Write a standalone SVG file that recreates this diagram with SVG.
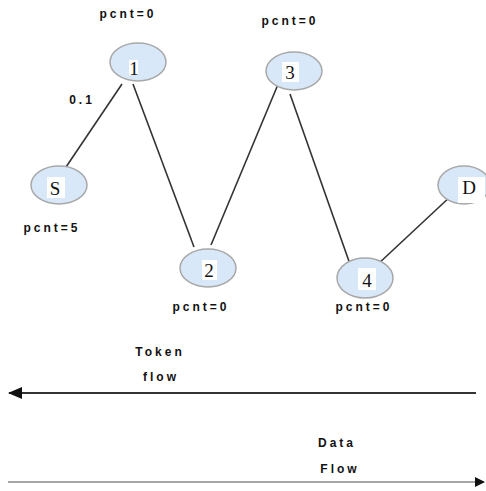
<svg xmlns="http://www.w3.org/2000/svg" width="486" height="491" viewBox="0 0 486 491">
<style>
.n ellipse{fill:#d8e8f8;stroke:#a8a8a8;stroke-width:1.5}
.n rect{fill:#ffffff}
.nl{font-family:"Liberation Serif",serif;font-size:19px;fill:#111;text-anchor:middle}
.t{font-family:"Liberation Sans",Arial,sans-serif;font-size:12px;font-weight:bold;fill:#111;text-anchor:middle;letter-spacing:3px}
.e line{stroke:#333;stroke-width:1.6}
</style>
<defs>
<marker id="ah" markerWidth="10" markerHeight="10" refX="9" refY="5" orient="auto" markerUnits="userSpaceOnUse">
<path d="M0,0 L10,5 L0,10 Z" fill="#111"/>
</marker>
<marker id="ah2" markerWidth="14" markerHeight="12" refX="13" refY="6" orient="auto" markerUnits="userSpaceOnUse">
<path d="M0,0 L14,6 L0,12 Z" fill="#111"/>
</marker>
</defs>
<rect width="486" height="491" fill="#ffffff"/>
<g id="edges" class="e">
<line x1="64" y1="170" x2="122" y2="84"/>
<line x1="133" y1="84" x2="194" y2="247"/>
<line x1="211" y1="245" x2="279" y2="82"/>
<line x1="290" y1="94" x2="351" y2="267"/>
<line x1="377" y1="265" x2="452" y2="195"/>
</g>
<g id="node-1" class="n">
<ellipse cx="138" cy="62" rx="28" ry="19"/>
<rect x="129" y="60" width="9" height="15"/>
<text class="nl" x="134" y="75">1</text>
</g>
<g id="node-S" class="n">
<ellipse cx="59" cy="185" rx="28" ry="19"/>
<rect x="47" y="177" width="18" height="21"/>
<text class="nl" x="55" y="195">S</text>
</g>
<g id="node-2" class="n">
<ellipse cx="208" cy="268" rx="28" ry="19"/>
<rect x="202" y="260" width="15" height="20"/>
<text class="nl" x="209" y="277">2</text>
</g>
<g id="node-3" class="n">
<ellipse cx="294" cy="71" rx="28" ry="19"/>
<rect x="282" y="62" width="17" height="20"/>
<text class="nl" x="290" y="79">3</text>
</g>
<g id="node-4" class="n">
<ellipse cx="365" cy="278" rx="28" ry="20"/>
<rect x="358" y="268" width="18" height="22"/>
<text class="nl" x="367" y="287">4</text>
</g>
<g id="node-D" class="n">
<ellipse cx="464" cy="185" rx="26" ry="19"/>
<rect x="458" y="177" width="27" height="26"/>
<text class="nl" x="469" y="194">D</text>
</g>
<g id="labels">
<text class="t" x="128" y="18">pcnt=0</text>
<text class="t" x="290" y="25">pcnt=0</text>
<text class="t" x="82" y="104">0.1</text>
<text class="t" x="52" y="232">pcnt=5</text>
<text class="t" x="201" y="311">pcnt=0</text>
<text class="t" x="364" y="311">pcnt=0</text>
<text class="t" x="160" y="356">Token</text>
<text class="t" x="161" y="381">flow</text>
<text class="t" x="337" y="447">Data</text>
<text class="t" x="340" y="473">Flow</text>
</g>
<g id="flow-arrows">
<line x1="476" y1="393" x2="9" y2="393" stroke="#333" stroke-width="1.8" marker-end="url(#ah2)"/>
<line x1="8" y1="482" x2="484" y2="482" stroke="#888" stroke-width="1.5" marker-end="url(#ah)"/>
</g>
</svg>
